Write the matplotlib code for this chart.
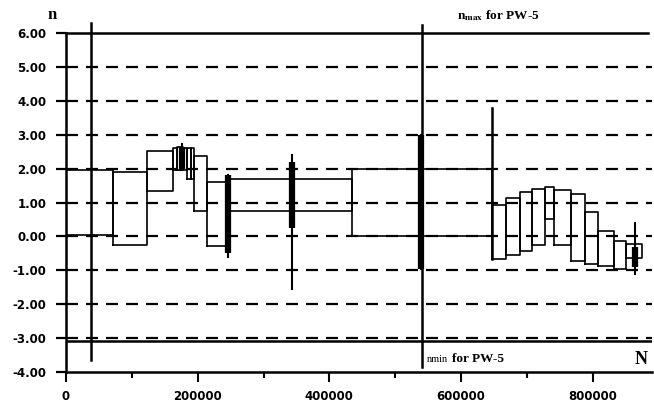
import matplotlib
matplotlib.use('Agg')
import matplotlib.pyplot as plt
from matplotlib.ticker import MultipleLocator, FormatStrFormatter

plt.rcParams['mathtext.fontset'] = 'stix'

# ---- data ----
box_start = [0, 71800, 123400, 162900, 168000, 173000, 178100, 183200, 189800,
             194800, 213600, 244000, 433700, 647100, 667900, 690200, 708500,
             727100, 740800, 767700, 787900, 808100, 831900, 850100]
box_end = [71800, 123400, 162900, 168000, 173000, 178100, 183200, 189800, 194800,
           213600, 244000, 433700, 647100, 667900, 690200, 708500, 727100,
           740800, 767700, 787900, 808100, 831900, 850100, 875500]
box_upper = [1.97, 1.89, 2.53, 2.60, 2.65, 2.65, 2.62, 2.62, 2.62,
             2.38, 1.59, 1.70, 1.99, 0.94, 1.14, 1.30, 1.41,
             1.46, 1.36, 1.24, 0.71, 0.15, -0.14, -0.21]
box_lower = [0.05, -0.24, 1.35, 1.97, 1.97, 1.97, 1.97, 1.70, 1.70,
             0.75, -0.28, 0.76, 0.00, -0.66, -0.56, -0.43, -0.26,
             0.50, -0.26, -0.74, -0.82, -0.87, -0.95, -0.63]

cluster_x = [176000, 246400, 342600, 538500, 863800]
cluster_thin_lo = [1.95, -0.62, -1.56, -0.97, -1.12]
cluster_thin_hi = [2.72, 1.82, 2.41, 3.00, 0.40]
cluster_thick_lo = [2.00, -0.50, 0.26, -0.97, -0.90]
cluster_thick_hi = [2.65, 1.80, 2.18, 3.00, -0.30]

tall_x = [38000, 541400, 647100]
tall_lo = [-3.65, -3.85, -0.68]
tall_hi = [6.30, 6.25, 3.79]

n_max = 6.0
n_min = -3.08
grid_levels = [-3, -2, -1, 0, 1, 2, 3, 4, 5]

fig = plt.figure(figsize=(6.54, 4.05), dpi=100)
ax = fig.add_axes([66 / 654, 1 - 372 / 405, (652 - 66) / 654, (372 - 33) / 405])
ax.set_xlim(0, 890000)
ax.set_ylim(-4, 6)

lw_box = 1.2
# dashed grid lines
for g in grid_levels:
    ax.axhline(g, color='black', lw=1.6, dashes=(5.4, 3.6), zorder=1)
# n_max and n_min lines
ax.axhline(n_max, color='black', lw=1.8, xmax=648 / 652 * 652 / 652, zorder=2, clip_on=False)
ax.axhline(n_min, color='black', lw=1.8, zorder=2)

# boxes
for s, e, u, l in zip(box_start, box_end, box_upper, box_lower):
    ax.plot([s, s, e, e, s], [l, u, u, l, l], color='black', lw=lw_box, zorder=3)

# clusters
for x, tlo, thi, klo, khi in zip(cluster_x, cluster_thin_lo, cluster_thin_hi,
                                 cluster_thick_lo, cluster_thick_hi):
    ax.plot([x, x], [tlo, thi], color='black', lw=1.5, zorder=4)
    ax.plot([x, x], [klo, khi], color='black', lw=4.5, zorder=4,
            solid_capstyle='butt')

# tall vertical lines
for x, lo, hi in zip(tall_x, tall_lo, tall_hi):
    ax.plot([x, x], [lo, hi], color='black', lw=1.8, zorder=5, clip_on=False)

# spines and ticks
for sp in ['top', 'right']:
    ax.spines[sp].set_visible(False)
ax.spines['left'].set_linewidth(1.8)
ax.spines['bottom'].set_linewidth(1.8)
ax.xaxis.set_major_locator(MultipleLocator(200000))
ax.xaxis.set_minor_locator(MultipleLocator(100000))
ax.yaxis.set_major_locator(MultipleLocator(1))
ax.yaxis.set_major_formatter(FormatStrFormatter('%.2f'))
ax.xaxis.set_major_formatter(FormatStrFormatter('%d'))
ax.tick_params(axis='x', which='major', length=7, width=1.5, pad=6,
               labelsize=8.5, direction='out')
ax.tick_params(axis='x', which='minor', length=4, width=1.5, direction='out')
ax.tick_params(axis='y', length=7, width=1.6, pad=7, labelsize=8.5, direction='out')
for lab in ax.get_xticklabels() + ax.get_yticklabels():
    lab.set_fontweight('bold')

# annotations
serif = ['Liberation Serif', 'DejaVu Serif']
fig.text(52 / 654, 1 - 15 / 405, 'n', family=serif, fontweight='bold',
         fontsize=12, ha='center', va='center')
fig.text(641 / 654, 1 - 359 / 405, 'N', family=serif, fontweight='bold',
         fontsize=13, ha='center', va='center')
fig.text(498 / 654, 1 - 16 / 405, r'n$_{\mathbf{max}}$ for PW-5', family=serif,
         fontweight='bold', fontsize=9.5, ha='center', va='center')
fig.text(427 / 654, 1 - 359 / 405, 'nmin', family=serif, fontsize=7.5,
         ha='left', va='center')
fig.text(452 / 654, 1 - 359 / 405, 'for PW-5', family=serif, fontweight='bold',
         fontsize=9.5, ha='left', va='center')

fig.savefig('out.png', dpi=100)
